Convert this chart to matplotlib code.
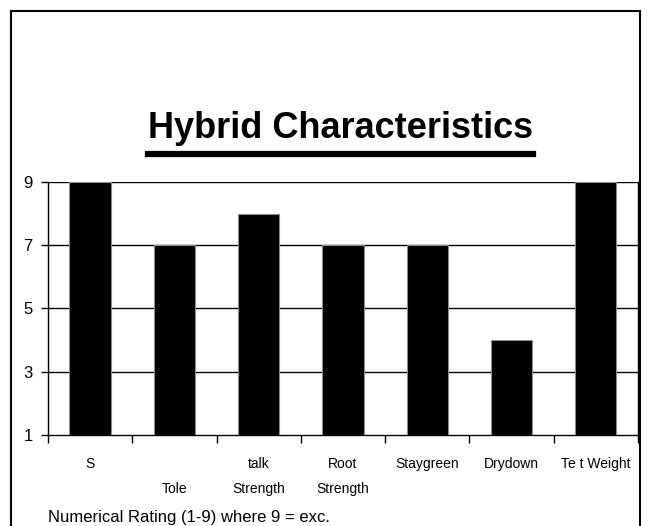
import matplotlib.pyplot as plt
from matplotlib.patches import Rectangle
from matplotlib.lines import Line2D

plt.rcParams['font.family'] = ['Liberation Sans', 'DejaVu Sans']

# data
categories = ['S', '\nTole', 'talk\nStrength', 'Root\nStrength', 'Staygreen', 'Drydown', 'Te t Weight']
ratings = [9, 7, 8, 7, 7, 4, 9]
yticks = [1, 3, 5, 7, 9]

fig = plt.figure(figsize=(6.54, 5.26), dpi=100)
ax = fig.add_axes([0.0734, 0.173, 0.902, 0.481])

x = list(range(len(categories)))
ax.bar(x, [r - 1 for r in ratings], bottom=1, width=0.49, color='black',
       edgecolor='#8a8a8a', linewidth=0.8, zorder=3)

ax.set_xlim(-0.5, len(categories) - 0.5)
ax.set_ylim(1, 9)
ax.set_yticks(yticks)
ax.set_yticklabels([str(t) for t in yticks], fontsize=12)
for t in yticks[1:]:
    ax.axhline(t, color='black', linewidth=1, zorder=2)

# category boundaries as tick marks, labels at centres
ax.set_xticks([i - 0.5 for i in range(len(categories) + 1)])
ax.set_xticklabels([])
ax.set_xticks(x, minor=True)
ax.set_xticklabels(categories, minor=True, fontsize=10, linespacing=2.0)
ax.tick_params(axis='x', which='minor', length=0, pad=16)
ax.tick_params(axis='x', which='major', length=6, width=1, direction='out')
ax.tick_params(axis='y', length=5, width=1, pad=6)

ax.spines['top'].set_visible(False)
for side in ['left', 'right', 'bottom']:
    ax.spines[side].set_linewidth(1)

# title with underline
title = fig.text(0.521, 0.756, 'Hybrid Characteristics', ha='center', va='center',
                 fontsize=26, fontweight='bold')
fig.canvas.draw()
bb = title.get_window_extent().transformed(fig.transFigure.inverted())
fig.add_artist(Line2D([bb.x0, bb.x1], [0.708, 0.708], color='black', linewidth=4.5))

fig.text(0.073, 0.008, 'Numerical Rating (1-9) where 9 = exc.', fontsize=12)

# outer frame
fig.add_artist(Rectangle((0.017, -0.1), 0.962, 1.08, transform=fig.transFigure,
                         fill=False, edgecolor='black', linewidth=1.5))

fig.savefig('out.png', dpi=100)
